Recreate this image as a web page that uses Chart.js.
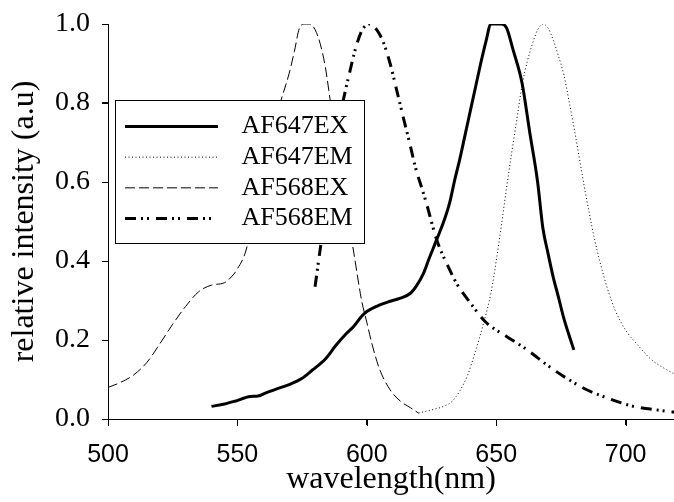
<!DOCTYPE html>
<html>
<head>
<meta charset="utf-8">
<script src="https://cdn.jsdelivr.net/npm/chart.js@4/dist/chart.umd.min.js"></script>
<style>
  html, body { margin: 0; padding: 0; background: #fff; overflow: hidden; }
  #c { display: block; }
</style>
</head>
<body>
<canvas id="c" width="674" height="502"></canvas>
<script>
// ---- data ----
const seriesNames = ['AF647EX', 'AF647EM', 'AF568EX', 'AF568EM'];

const wlAF647EX = [540,545,549,555,558,561,566,570,575,579,584,588,592,595,598,600,604,609,613,617,619,622,624,627,630,632,634,636,638,640,642,644,646,648,652,654,656.5,660,663,666,668,670,672,674,676,678,680];
const valAF647EX = [0.032,0.038,0.045,0.057,0.058,0.066,0.078,0.087,0.103,0.124,0.152,0.186,0.216,0.235,0.26,0.272,0.286,0.298,0.306,0.319,0.335,0.37,0.405,0.454,0.505,0.547,0.606,0.66,0.72,0.78,0.84,0.90,0.955,1.0,1.0,0.99,0.935,0.85,0.724,0.60,0.485,0.42,0.36,0.31,0.258,0.215,0.175];

const wlAF647EM = [620,625,630,633,636,639,642,645,648,650,652,654,656,658,660,662,664,666,668,670,672,674,676,678,680,682,684,686,688,690,693,696,700,705,710,715,720];
const valAF647EM = [0.015,0.023,0.033,0.045,0.072,0.112,0.172,0.24,0.32,0.40,0.49,0.585,0.675,0.76,0.845,0.905,0.95,0.985,1.0,0.99,0.96,0.92,0.875,0.81,0.74,0.665,0.59,0.52,0.455,0.40,0.33,0.275,0.225,0.185,0.15,0.128,0.11];

const wlAF568EX = [500,505,510,515,520,525,530,535,540,545,548,550,553,556,560,564,567,570,572,574,576,578,580,582,584,586,590,595,598,600,602,605,609,613,617,620];
const valAF568EX = [0.08,0.093,0.112,0.143,0.19,0.24,0.285,0.322,0.339,0.345,0.362,0.38,0.42,0.5,0.62,0.74,0.81,0.875,0.93,0.99,1.0,1.0,0.986,0.95,0.89,0.80,0.62,0.42,0.30,0.245,0.19,0.125,0.074,0.045,0.028,0.015];

const wlAF568EM = [580,582,584,586,588,590,591,593,595.5,598,601,604,606.5,609,611.5,614,616.5,619,621,623,627,632,635,640,646,654,662,670,677,685,693,703,711,718,720];
const valAF568EM = [0.335,0.43,0.52,0.61,0.70,0.78,0.81,0.867,0.934,0.982,1.0,0.984,0.952,0.90,0.834,0.766,0.70,0.632,0.59,0.547,0.454,0.378,0.34,0.294,0.245,0.209,0.175,0.135,0.104,0.074,0.053,0.032,0.024,0.018,0.017];

const xTicks = [500, 550, 600, 650, 700];
const yTicks = [0.0, 0.2, 0.4, 0.6, 0.8, 1.0];

// ---- helpers ----
function pts(wl, val) { return wl.map((w, i) => ({ x: w, y: val[i] })); }

const SERIF = "'Liberation Serif', 'Times New Roman', serif";
const SANS = "'Liberation Sans', Arial, sans-serif";

const lineStyles = [
  { width: 3, dash: [] },
  { width: 1, dash: [1, 2.5] },
  { width: 1, dash: [10, 4] },
  { width: 3, dash: [11, 5, 2, 4, 2, 7] }
];

const seriesData = [
  pts(wlAF647EX, valAF647EX),
  pts(wlAF647EM, valAF647EM),
  pts(wlAF568EX, valAF568EX),
  pts(wlAF568EM, valAF568EM)
];

const datasets = seriesNames.map((name, i) => ({
  label: name,
  data: seriesData[i],
  borderColor: '#000',
  backgroundColor: '#000',
  borderWidth: lineStyles[i].width,
  borderDash: lineStyles[i].dash,
  pointRadius: 0,
  fill: false,
  cubicInterpolationMode: 'monotone'
}));

// opaque legend box, drawn right after the curves (before the axis layers)
const legendBox = {
  id: 'legendBox',
  afterDatasetsDraw(chart) {
    const ctx = chart.ctx;
    const bx = 115.5, by = 100.5, bw = 249, bh = 143;
    ctx.save();
    ctx.fillStyle = '#fff';
    ctx.fillRect(bx, by, bw, bh);
    ctx.strokeStyle = '#000';
    ctx.lineWidth = 1;
    ctx.strokeRect(bx, by, bw, bh);
    ctx.font = '26px ' + SERIF;
    ctx.textBaseline = 'middle';
    ctx.textAlign = 'left';
    seriesNames.forEach((name, i) => {
      const y = 126.5 + i * 30.67;
      ctx.save();
      ctx.beginPath();
      ctx.lineWidth = lineStyles[i].width;
      ctx.lineCap = 'butt';
      ctx.setLineDash(lineStyles[i].dash.slice());
      ctx.strokeStyle = '#000';
      ctx.moveTo(125, y);
      ctx.lineTo(218, y);
      ctx.stroke();
      ctx.restore();
      ctx.fillStyle = '#000';
      ctx.fillText(name, 241.5, y);
    });
    ctx.restore();
  }
};

// axis lines and tick marks, drawn last, placed through the scales
const axesLast = {
  id: 'axesLast',
  afterDraw(chart) {
    const ctx = chart.ctx;
    const xs = chart.scales.x, ys = chart.scales.y;
    const left = Math.round(xs.getPixelForValue(500));
    const bottom = Math.round(ys.getPixelForValue(0));
    const top = Math.round(ys.getPixelForValue(1.0));
    ctx.save();
    ctx.fillStyle = '#000';
    ctx.fillRect(left, top, 1, bottom - top + 1);
    ctx.fillRect(left, bottom, chart.width - left, 1);
    xTicks.forEach(v => {
      const px = Math.round(xs.getPixelForValue(v));
      ctx.fillRect(px, bottom, 1, 7);
    });
    yTicks.forEach(v => {
      const py = Math.round(ys.getPixelForValue(v));
      ctx.fillRect(left - 6, py, 7, 1);
    });
    ctx.restore();
  }
};

function noPad(s) { s.paddingTop = 0; s.paddingBottom = 0; s.paddingLeft = 0; s.paddingRight = 0; }

new Chart(document.getElementById('c'), {
  type: 'line',
  data: { datasets },
  options: {
    responsive: false,
    animation: false,
    events: [],
    layout: { padding: { top: 24, right: 0, left: 0, bottom: 0 } },
    plugins: { legend: { display: false }, tooltip: { enabled: false } },
    scales: {
      x: {
        type: 'linear',
        min: 500,
        max: 718.7,
        afterBuildTicks: (s) => { s.ticks = xTicks.map(v => ({ value: v })); },
        afterFit: (s) => { s.height = 83; noPad(s); },
        ticks: {
          includeBounds: false,
          color: '#000',
          padding: 15,
          maxRotation: 0,
          font: { family: SANS, size: 25 },
          callback: (v) => String(v)
        },
        grid: { display: true, z: 1, drawOnChartArea: false, drawTicks: true, tickLength: 6, color: '#000', lineWidth: 1 },
        border: { display: true, z: 1, color: '#000', width: 1 },
        title: {
          display: true,
          text: 'wavelength(nm)',
          color: '#000',
          font: { family: SERIF, size: 32 },
          padding: { top: 0, bottom: 3 }
        }
      },
      y: {
        type: 'linear',
        min: 0,
        max: 1.0,
        afterBuildTicks: (s) => { s.ticks = yTicks.map(v => ({ value: v })); },
        afterFit: (s) => { s.width = 108; noPad(s); },
        ticks: {
          color: '#000',
          padding: 12,
          font: { family: SERIF, size: 28 },
          callback: (v) => Number(v).toFixed(1)
        },
        grid: { display: true, z: 1, drawOnChartArea: false, drawTicks: true, tickLength: 6, color: '#000', lineWidth: 1 },
        border: { display: true, z: 1, color: '#000', width: 1 },
        title: {
          display: true,
          text: 'relative intensity (a.u)',
          color: '#000',
          font: { family: SERIF, size: 32 },
          padding: { top: 5, bottom: 0 }
        }
      }
    }
  },
  plugins: [legendBox, axesLast]
});
</script>
</body>
</html>
